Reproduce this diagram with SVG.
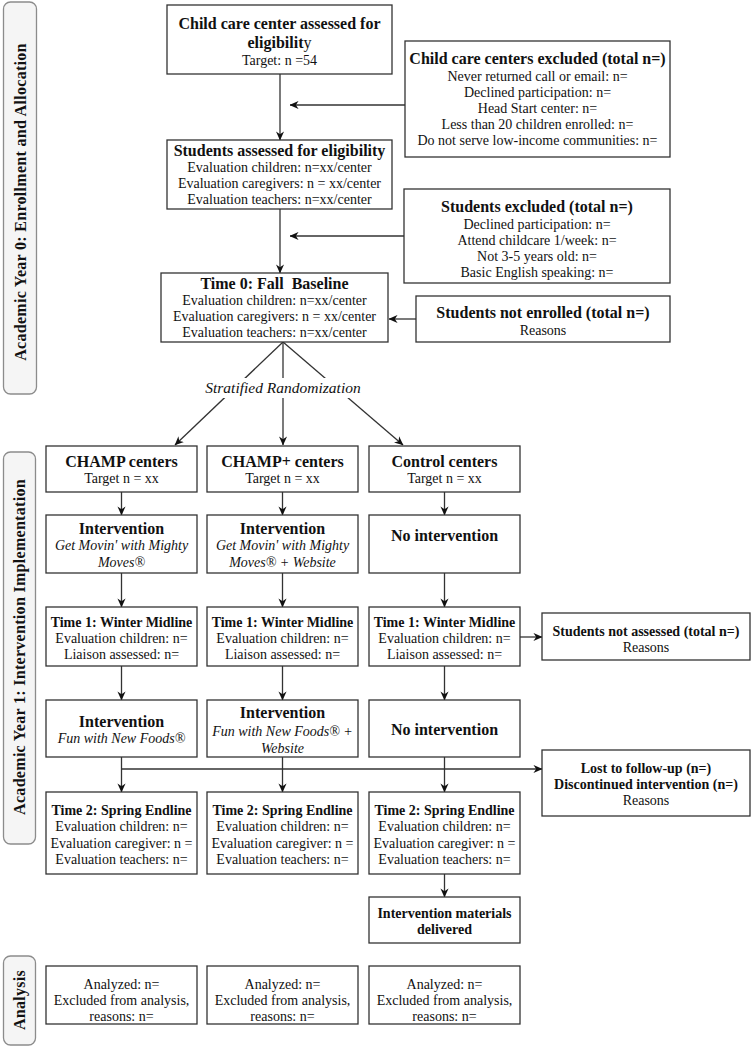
<svg xmlns="http://www.w3.org/2000/svg" width="752" height="1047" viewBox="0 0 752 1047">
<style>
.box{fill:#fff;stroke:#333;stroke-width:1.3}
.lane{fill:#f5f5f5;stroke:#8c8c8c;stroke-width:1.3}
text{font-family:"Liberation Serif","Times New Roman",serif;fill:#111;text-anchor:middle}
.t{font-weight:bold;font-size:16px}
.t2{font-weight:bold;font-size:16px}
.t3{font-weight:bold;font-size:14px}
.b{font-size:14px}
.i{font-style:italic;font-size:14px}
.lt{font-weight:bold;font-size:16px;letter-spacing:0.3px}
.c{stroke:#333;stroke-width:1.3;fill:none}
</style>
<defs>
<marker id="ah" viewBox="0 0 10 10" refX="9.5" refY="5" markerWidth="9" markerHeight="9" orient="auto" markerUnits="userSpaceOnUse">
<path d="M0,0.5 L10,5 L0,9.5 L3,5 z" fill="#111"/>
</marker>
</defs>

<g id="lane0">
<rect class="lane" x="3.5" y="2" width="33" height="392" rx="7"/>
<text class="lt" transform="translate(20,202) rotate(-90)" dominant-baseline="central">Academic Year 0: Enrollment and Allocation</text>
</g>
<g id="lane1">
<rect class="lane" x="3.5" y="452" width="32" height="392" rx="7"/>
<text class="lt" transform="translate(19.5,647) rotate(-90)" dominant-baseline="central">Academic Year 1: Intervention Implementation</text>
</g>
<g id="lane2">
<rect class="lane" x="3.5" y="956" width="32" height="89" rx="7"/>
<text class="lt" transform="translate(19.5,1000) rotate(-90)" dominant-baseline="central">Analysis</text>
</g>

<g id="connectors">
<path class="c" d="M280,74 V140" marker-end="url(#ah)"/>
<path class="c" d="M405,105 H290" marker-end="url(#ah)"/>
<path class="c" d="M280,209 V273" marker-end="url(#ah)"/>
<path class="c" d="M404,236 H290" marker-end="url(#ah)"/>
<path class="c" d="M416,319 H389" marker-end="url(#ah)"/>
<path class="c" d="M283,342 L175,445" marker-end="url(#ah)"/>
<path class="c" d="M283,342 V445" marker-end="url(#ah)"/>
<path class="c" d="M283,342 L403,445" marker-end="url(#ah)"/>
<path class="c" d="M121.5,492 V515" marker-end="url(#ah)"/>
<path class="c" d="M282.5,492 V515" marker-end="url(#ah)"/>
<path class="c" d="M444.5,492 V515" marker-end="url(#ah)"/>
<path class="c" d="M121.5,573 V607" marker-end="url(#ah)"/>
<path class="c" d="M282.5,573 V607" marker-end="url(#ah)"/>
<path class="c" d="M444.5,573 V607" marker-end="url(#ah)"/>
<path class="c" d="M520,637 H542" marker-end="url(#ah)"/>
<path class="c" d="M121.5,666 V700" marker-end="url(#ah)"/>
<path class="c" d="M282.5,666 V700" marker-end="url(#ah)"/>
<path class="c" d="M444.5,666 V700" marker-end="url(#ah)"/>
<path class="c" d="M121.5,757 V792" marker-end="url(#ah)"/>
<path class="c" d="M282.5,757 V792" marker-end="url(#ah)"/>
<path class="c" d="M444.5,757 V792" marker-end="url(#ah)"/>
<path class="c" d="M121.5,769 H542" marker-end="url(#ah)"/>
<path class="c" d="M444.5,874 V897" marker-end="url(#ah)"/>
<rect x="199" y="378" width="168" height="20" fill="#fff"/>
<text class="i" style="font-size:15.5px" x="283" y="393">Stratified Randomization</text>
</g>

<g id="center-eligibility">
<rect class="box" x="167" y="5" width="225" height="69"/>
<text class="t" x="279.5" y="29">Child care center assessed for</text>
<text class="t" x="279.5" y="48">eligibilit<tspan font-weight="normal">y</tspan></text>
<text class="b" x="279.5" y="65">Target: n =54</text>
</g>

<g id="centers-excluded">
<rect class="box" x="405" y="41" width="265" height="116"/>
<text class="t" x="537.5" y="64">Child care centers excluded (total n=)</text>
<text class="b" x="537.5" y="81">Never returned call or email: n=</text>
<text class="b" x="537.5" y="97">Declined participation: n=</text>
<text class="b" x="537.5" y="113">Head Start center: n=</text>
<text class="b" x="537.5" y="129">Less than 20 children enrolled: n=</text>
<text class="b" x="537.5" y="145">Do not serve low-income communities: n=</text>
</g>

<g id="students-eligibility">
<rect class="box" x="167" y="140" width="225" height="69"/>
<text class="t" x="279.5" y="156">Students assessed for eligibility</text>
<text class="b" x="279.5" y="172">Evaluation children: n=xx/center</text>
<text class="b" x="279.5" y="188">Evaluation caregivers: n = xx/center</text>
<text class="b" x="279.5" y="204">Evaluation teachers: n=xx/center</text>
</g>

<g id="students-excluded">
<rect class="box" x="404" y="189" width="266" height="94"/>
<text class="t" x="537" y="212">Students excluded (total n=)</text>
<text class="b" x="537" y="229">Declined participation: n=</text>
<text class="b" x="537" y="245">Attend childcare 1/week: n=</text>
<text class="b" x="537" y="261">Not 3-5 years old: n=</text>
<text class="b" x="537" y="277">Basic English speaking: n=</text>
</g>

<g id="time0">
<rect class="box" x="161" y="273" width="227" height="69"/>
<text class="t" x="274.5" y="289">Time 0: Fall &#160;Baseline</text>
<text class="b" x="274.5" y="305">Evaluation children: n=xx/center</text>
<text class="b" x="274.5" y="321">Evaluation caregivers: n = xx/center</text>
<text class="b" x="274.5" y="337">Evaluation teachers: n=xx/center</text>
</g>

<g id="not-enrolled">
<rect class="box" x="416" y="296" width="254" height="46"/>
<text class="t" x="543" y="318">Students not enrolled (total n=)</text>
<text class="b" x="543" y="335">Reasons</text>
</g>

<g id="champ">
<rect class="box" x="46" y="446" width="151" height="46"/>
<text class="t2" x="121.5" y="467">CHAMP centers</text>
<text class="b" x="121.5" y="483">Target n = xx</text>
</g>
<g id="champplus">
<rect class="box" x="207" y="446" width="151" height="46"/>
<text class="t2" x="282.5" y="467">CHAMP+ centers</text>
<text class="b" x="282.5" y="483">Target n = xx</text>
</g>
<g id="control">
<rect class="box" x="369" y="446" width="151" height="46"/>
<text class="t2" x="444.5" y="467">Control centers</text>
<text class="b" x="444.5" y="483">Target n = xx</text>
</g>

<g id="int1-champ">
<rect class="box" x="46" y="515" width="151" height="58"/>
<text class="t2" x="121.5" y="534">Intervention</text>
<text class="i" x="121.5" y="550">Get Movin' with Mighty</text>
<text class="i" x="121.5" y="567">Moves®</text>
</g>
<g id="int1-champplus">
<rect class="box" x="207" y="515" width="151" height="58"/>
<text class="t2" x="282.5" y="534">Intervention</text>
<text class="i" x="282.5" y="550">Get Movin' with Mighty</text>
<text class="i" x="282.5" y="567">Moves® + Website</text>
</g>
<g id="int1-control">
<rect class="box" x="369" y="515" width="151" height="58"/>
<text class="t2" x="444.5" y="541">No intervention</text>
</g>

<g id="t1-champ">
<rect class="box" x="46" y="607" width="151" height="59"/>
<text class="t3" x="121.5" y="627">Time 1: Winter Midline</text>
<text class="b" x="121.5" y="643">Evaluation children: n=</text>
<text class="b" x="121.5" y="659">Liaison assessed: n=</text>
</g>
<g id="t1-champplus">
<rect class="box" x="207" y="607" width="151" height="59"/>
<text class="t3" x="282.5" y="627">Time 1: Winter Midline</text>
<text class="b" x="282.5" y="643">Evaluation children: n=</text>
<text class="b" x="282.5" y="659">Liaison assessed: n=</text>
</g>
<g id="t1-control">
<rect class="box" x="369" y="607" width="151" height="59"/>
<text class="t3" x="444.5" y="627">Time 1: Winter Midline</text>
<text class="b" x="444.5" y="643">Evaluation children: n=</text>
<text class="b" x="444.5" y="659">Liaison assessed: n=</text>
</g>

<g id="not-assessed">
<rect class="box" x="542" y="613" width="208" height="47"/>
<text class="t3" x="646" y="636">Students not assessed (total n=)</text>
<text class="b" x="646" y="652">Reasons</text>
</g>

<g id="int2-champ">
<rect class="box" x="46" y="700" width="151" height="57"/>
<text class="t2" x="121.5" y="727">Intervention</text>
<text class="i" x="121.5" y="743">Fun with New Foods®</text>
</g>
<g id="int2-champplus">
<rect class="box" x="207" y="700" width="151" height="57"/>
<text class="t2" x="282.5" y="718">Intervention</text>
<text class="i" x="282.5" y="736">Fun with New Foods® +</text>
<text class="i" x="282.5" y="753">Website</text>
</g>
<g id="int2-control">
<rect class="box" x="369" y="700" width="151" height="57"/>
<text class="t2" x="444.5" y="735">No intervention</text>
</g>

<g id="lost">
<rect class="box" x="542" y="750" width="208" height="66"/>
<text class="t3" x="646" y="773">Lost to follow-up (n=)</text>
<text class="t3" x="646" y="789">Discontinued intervention (n=)</text>
<text class="b" x="646" y="805">Reasons</text>
</g>

<g id="t2-champ">
<rect class="box" x="46" y="792" width="151" height="82"/>
<text class="t3" x="121.5" y="815">Time 2: Spring Endline</text>
<text class="b" x="121.5" y="831">Evaluation children: n=</text>
<text class="b" x="121.5" y="848">Evaluation caregiver: n =</text>
<text class="b" x="121.5" y="864">Evaluation teachers: n=</text>
</g>
<g id="t2-champplus">
<rect class="box" x="207" y="792" width="151" height="82"/>
<text class="t3" x="282.5" y="815">Time 2: Spring Endline</text>
<text class="b" x="282.5" y="831">Evaluation children: n=</text>
<text class="b" x="282.5" y="848">Evaluation caregiver: n =</text>
<text class="b" x="282.5" y="864">Evaluation teachers: n=</text>
</g>
<g id="t2-control">
<rect class="box" x="369" y="792" width="151" height="82"/>
<text class="t3" x="444.5" y="815">Time 2: Spring Endline</text>
<text class="b" x="444.5" y="831">Evaluation children: n=</text>
<text class="b" x="444.5" y="848">Evaluation caregiver: n =</text>
<text class="b" x="444.5" y="864">Evaluation teachers: n=</text>
</g>

<g id="materials">
<rect class="box" x="369" y="897" width="151" height="46"/>
<text class="t3" x="444.5" y="918">Intervention materials</text>
<text class="t3" x="444.5" y="934">delivered</text>
</g>

<g id="an-champ">
<rect class="box" x="46" y="966" width="151" height="58"/>
<text class="b" x="121.5" y="989">Analyzed: n=</text>
<text class="b" x="121.5" y="1005">Excluded from analysis,</text>
<text class="b" x="121.5" y="1021">reasons: n=</text>
</g>
<g id="an-champplus">
<rect class="box" x="207" y="966" width="151" height="58"/>
<text class="b" x="282.5" y="989">Analyzed: n=</text>
<text class="b" x="282.5" y="1005">Excluded from analysis,</text>
<text class="b" x="282.5" y="1021">reasons: n=</text>
</g>
<g id="an-control">
<rect class="box" x="369" y="966" width="151" height="58"/>
<text class="b" x="444.5" y="989">Analyzed: n=</text>
<text class="b" x="444.5" y="1005">Excluded from analysis,</text>
<text class="b" x="444.5" y="1021">reasons: n=</text>
</g>
</svg>
